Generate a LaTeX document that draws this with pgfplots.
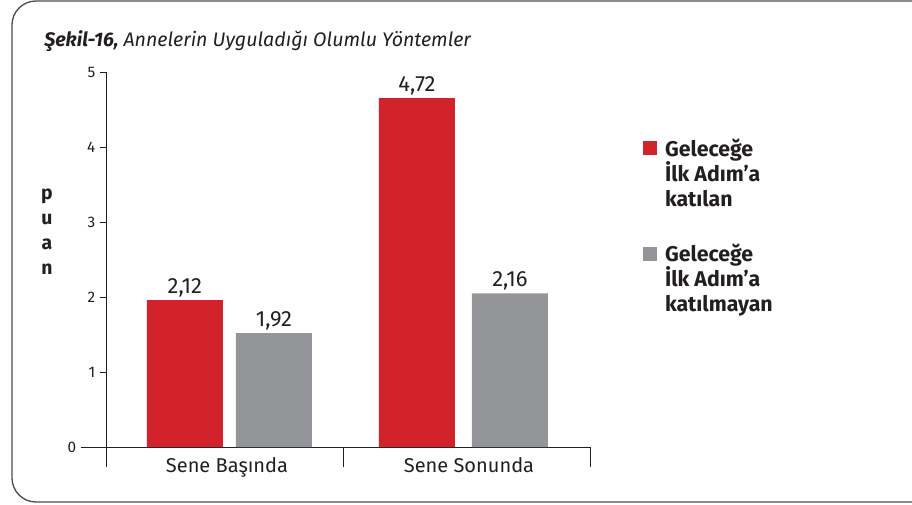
\documentclass[border=0pt]{standalone}
\usepackage{fontspec}
\setmainfont{Fira Sans}
\usepackage{pgfplots}
\usepackage{pgfplotstable}
\pgfplotsset{compat=1.18}
\definecolor{barred}{HTML}{D2232A}
\definecolor{bargray}{HTML}{939598}
\definecolor{framegray}{HTML}{4D4D4D}
\definecolor{ink}{HTML}{231F20}

% bar heights as drawn, labels as printed; x = bar centre
\pgfplotstableread{
x y label
-0.174 1.96 2,12
0.785 4.65 4,72
}\katilan
\pgfplotstableread{
x y label
0.194 1.52 1,92
1.169 2.05 2,16
}\katilmayan

\begin{document}
\begin{tikzpicture}[x=0.75pt,y=0.75pt]
\useasboundingbox (0,0) rectangle (912,504);
\draw[framegray, line width=1pt, rounded corners=18pt] (12,2) rectangle (960,503);
\node[anchor=base west, inner sep=0pt, font=\fontsize{14.7}{16}\selectfont\itshape, text=ink]
  at (44,457) {\textbf{Şekil-16,} Annelerin Uyguladığı Olumlu Yöntemler};
\begin{axis}[
  at={(79.5pt,42.75pt)}, anchor=south west,
  scale only axis, width=363pt, height=281.25pt,
  xmin=-0.5, xmax=1.5, ymin=0, ymax=5,
  axis x line*=bottom, axis y line*=left,
  axis line style={ink, line width=0.6pt, -},
  tick align=outside, major tick length=4.5pt,
  /pgf/number format/assume math mode=true,
  ytick={1,2,3,4,5},
  extra y ticks={0}, extra y tick style={major tick length=18.75pt},
  yticklabel style={font=\fontsize{11.5}{13}\selectfont, text=ink},
  tick style={ink, line width=0.6pt},
  xtick={0,1}, xticklabels={Sene Başında, Sene Sonunda},
  major x tick style={draw=none},
  minor xtick={-0.5,0.48,1.5}, minor tick length=15pt,
  minor x tick style={ink, line width=0.6pt},
  xticklabel style={font=\fontsize{15}{16}\selectfont, text=ink},
  ylabel={p\\u\\a\\n},
  ylabel style={rotate=-90, align=center, font=\fontsize{14.5}{18.75}\selectfont\bfseries,
    text=ink, at={(axis description cs:-0.122,0.573)}, anchor=center},
  nodes near coords, point meta=explicit symbolic,
  every node near coord/.append style={font=\fontsize{16.5}{18}\selectfont, text=ink,
    anchor=south, inner sep=2pt},
  legend style={draw=none, fill=none, at={(axis description cs:1.109,0.83)},
    anchor=north west, font=\fontsize{16}{18.75}\selectfont\bfseries, text=ink,
    cells={align=left, anchor=west}, row sep=23pt, inner sep=0pt,
    /tikz/every odd column/.style={column sep=4pt}},
  legend cell align=left,
  legend image code/.code={\fill[#1] (0pt,13.5pt) rectangle (10.5pt,24pt);},
]
\addplot[ybar, fill=barred, draw=none, bar width=0.314, bar shift=0]
  table[x=x, y=y, meta=label] {\katilan};
\addlegendentry{Geleceğe\\İlk Adım’a\\katılan}
\addplot[ybar, fill=bargray, draw=none, bar width=0.314, bar shift=0]
  table[x=x, y=y, meta=label] {\katilmayan};
\addlegendentry{Geleceğe\\İlk Adım’a\\katılmayan}
\end{axis}
\end{tikzpicture}
\end{document}
